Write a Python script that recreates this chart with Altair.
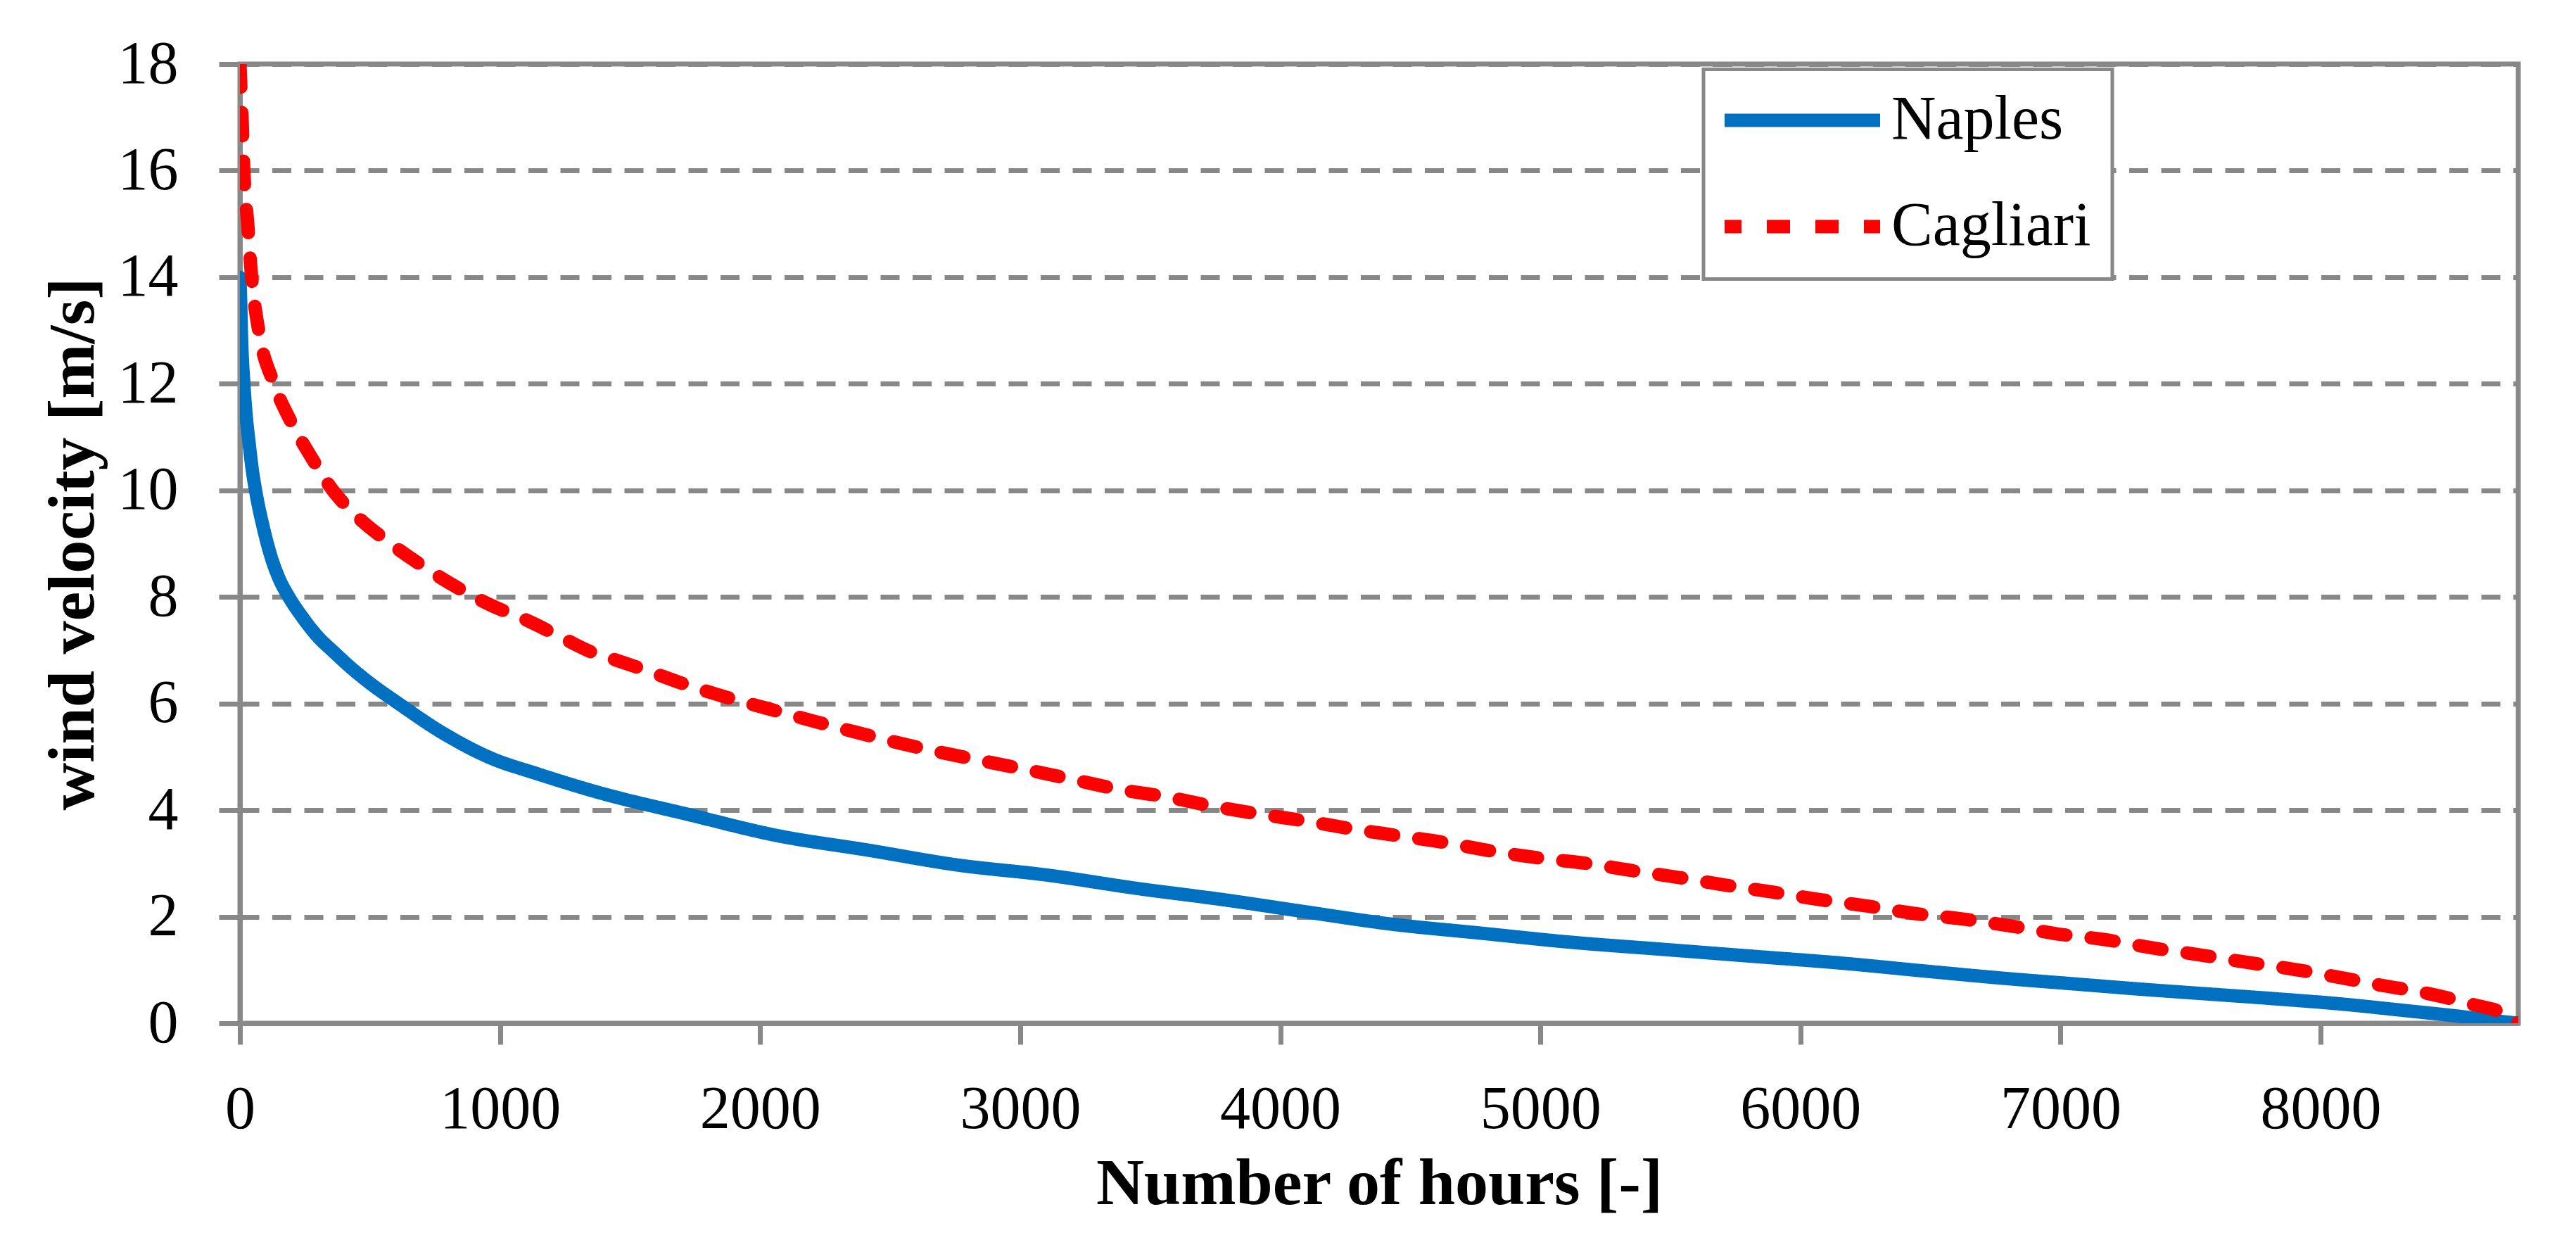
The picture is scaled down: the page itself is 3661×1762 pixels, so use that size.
import altair as alt
import pandas as pd

# Naples duration curve (hours, wind velocity m/s)
naples_hours = [0, 3, 6, 15, 24, 35, 47, 60, 90, 118, 150, 188, 240, 300, 360, 420,
                511, 601, 782, 963, 1144, 1379, 1722, 2067, 2413, 2758, 3104, 3449,
                3794, 4071, 4427, 4772, 5117, 5462, 5807, 6153, 6498, 6789, 7048,
                7306, 7565, 7823, 8081, 8340, 8534, 8700, 8760]
naples_vel = [14.0, 13.5, 12.9, 12.0, 11.4, 10.9, 10.4, 10.0, 9.3, 8.78, 8.35, 8.0,
              7.62, 7.25, 6.97, 6.7, 6.34, 6.03, 5.44, 4.98, 4.68, 4.33, 3.92, 3.52,
              3.25, 2.97, 2.78, 2.53, 2.31, 2.11, 1.86, 1.69, 1.52, 1.39, 1.26,
              1.13, 0.97, 0.84, 0.74, 0.64, 0.55, 0.46, 0.36, 0.23, 0.13, 0.03, 0.0]

# Cagliari duration curve
cagliari_hours = [0, 8, 15, 30, 45, 72, 131, 195, 271, 357, 457, 574, 696, 827, 963,
                  1109, 1252, 1360, 1411, 1558, 1705, 1869, 2033, 2197, 2361, 2525,
                  2698, 2870, 3043, 3216, 3389, 3561, 3743, 3915, 4117, 4272, 4453,
                  4634, 4815, 4997, 5178, 5359, 5540, 5713, 5894, 6075, 6256, 6437,
                  6618, 6828, 6983, 7170, 7345, 7526, 7707, 7888, 8062, 8236, 8411,
                  8579, 8727, 8760]
cagliari_vel = [18.0, 17.0, 16.0, 15.0, 14.0, 13.0, 12.0, 11.3, 10.65, 10.0, 9.48,
                9.02, 8.6, 8.2, 7.85, 7.55, 7.2, 6.95, 6.87, 6.63, 6.37, 6.12, 5.9,
                5.68, 5.47, 5.27, 5.08, 4.91, 4.74, 4.56, 4.38, 4.25, 4.07, 3.93,
                3.78, 3.65, 3.52, 3.39, 3.23, 3.10, 3.0, 2.86, 2.73, 2.59, 2.46,
                2.32, 2.20, 2.06, 1.96, 1.81, 1.68, 1.57, 1.42, 1.29, 1.15, 1.02,
                0.87, 0.71, 0.56, 0.36, 0.12, 0.0]

series_names = ["Naples", "Cagliari"]
series_colors = ["#0070C0", "#FF0000"]
x_ticks = list(range(0, 9000, 1000))
y_ticks = list(range(0, 20, 2))

df = pd.concat([
    pd.DataFrame({"hours": naples_hours, "vel": naples_vel, "series": "Naples"}),
    pd.DataFrame({"hours": cagliari_hours, "vel": cagliari_vel, "series": "Cagliari"}),
], ignore_index=True)

GREY = "#888888"
FONT = "Liberation Serif"

legend = alt.Legend(
    orient="none", legendX=2080, legendY=7.5, title=None,
    padding=30, clipHeight=85, rowPadding=62,
    symbolType="stroke", symbolSize=52900, symbolStrokeWidth=19,
    symbolOffset=-18.5, labelOffset=6.5,
    labelFont=FONT, labelFontSize=88, labelColor="black", labelLimit=0,
    strokeColor=GREY, fillColor="white",
)

chart = alt.Chart(df).mark_line(
    strokeWidth=19, strokeCap="round", strokeJoin="round", clip=True,
    interpolate="monotone"
).encode(
    x=alt.X("hours:Q", title="Number of hours [-]",
            scale=alt.Scale(domain=[0, 8760], nice=False),
            axis=alt.Axis(values=x_ticks, grid=False, format="d", labelLimit=0,
                          labelBaseline="alphabetic",
                          labelPadding=118, titleY=256, titleBaseline="alphabetic",
                          labelFlush=False, labelOverlap=False)),
    y=alt.Y("vel:Q", title="wind velocity [m/s]",
            scale=alt.Scale(domain=[0, 18], nice=False),
            axis=alt.Axis(values=y_ticks, grid=True, format="d", labelLimit=0,
                          labelPadding=58,
                          titleX=-209, titleBaseline="alphabetic",
                          gridColor=GREY, gridWidth=7, gridDash=[27, 18.5],
                          labelOverlap=False)),
    color=alt.Color("series:N", sort=series_names,
                    scale=alt.Scale(domain=series_names, range=series_colors),
                    legend=legend),
    strokeDash=alt.StrokeDash("series:N", sort=series_names,
                              scale=alt.Scale(domain=series_names, range=[[1, 0], [33, 36]]),
                              legend=legend),
).properties(
    width=3238, height=1363,
    autosize=alt.AutoSizeParams(type="none"),
    padding={"left": 333, "top": 83, "right": 60, "bottom": 290},
    background="white",
).configure_view(
    stroke=GREY, strokeWidth=7
).configure_axis(
    domainColor=GREY, domainWidth=7, tickColor=GREY, tickWidth=7, tickSize=30,
    labelFont=FONT, labelFontSize=86, labelColor="black",
    titleFont=FONT, titleFontSize=94, titleFontWeight="bold", titleColor="black",
).configure_legend(
    strokeWidth=5
)

chart.save("out.html", embed_options={"renderer": "svg", "actions": False})
